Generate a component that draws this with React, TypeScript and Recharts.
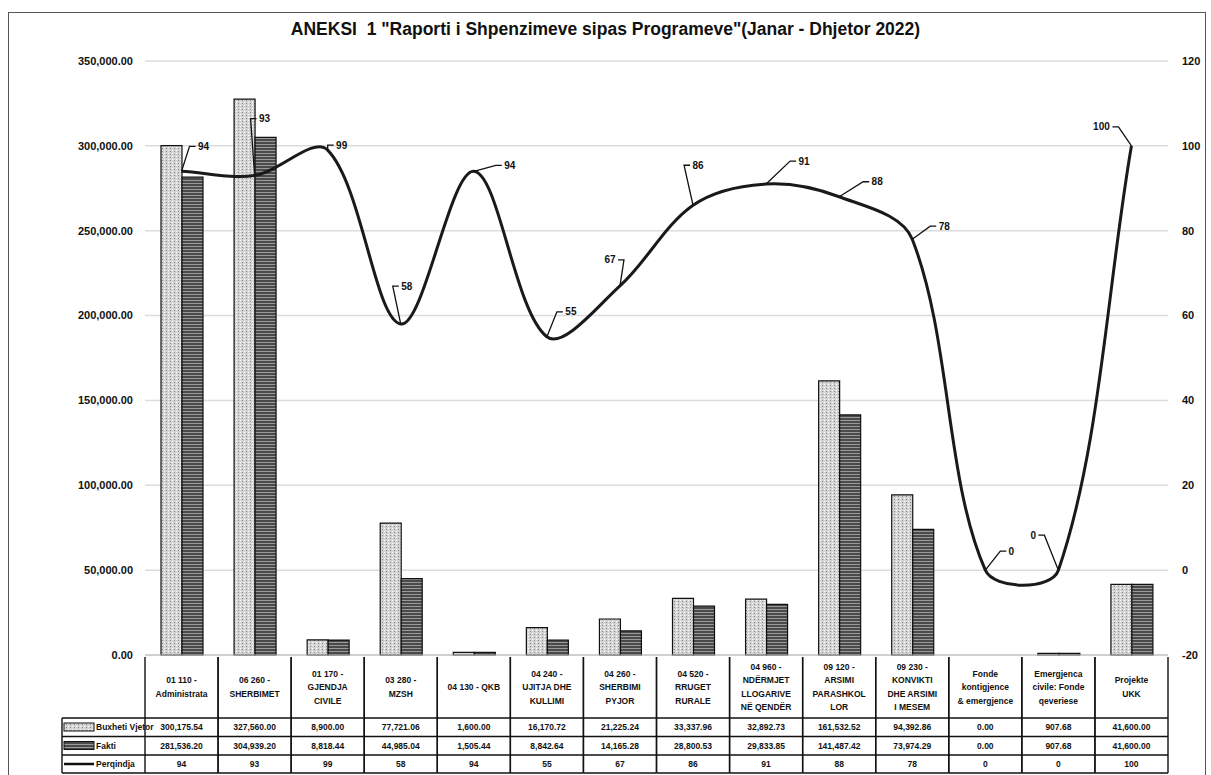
import React from 'react';
import { ComposedChart, Bar, Line, XAxis, YAxis, CartesianGrid } from 'recharts';

const categories = [
  '01 110 -\nAdministrata',
  '06 260 -\nSHERBIMET',
  '01 170 -\nGJENDJA\nCIVILE',
  '03 280 -\nMZSH',
  '04 130 - QKB',
  '04 240 -\nUJITJA DHE\nKULLIMI',
  '04 260 -\nSHERBIMI\nPYJOR',
  '04 520 -\nRRUGET\nRURALE',
  '04 960 -\nNDËRMJET\nLLOGARIVE\nNË QENDËR',
  '09 120 -\nARSIMI\nPARASHKOL\nLOR',
  '09 230 -\nKONVIKTI\nDHE ARSIMI\nI MESEM',
  'Fonde\nkontigjence\n& emergjence',
  'Emergjenca\ncivile: Fonde\nqeveriese',
  'Projekte\nUKK',
];
const buxhetiVjetor = [300175.54, 327560.0, 8900.0, 77721.06, 1600.0, 16170.72, 21225.24, 33337.96, 32892.73, 161532.52, 94392.86, 0.0, 907.68, 41600.0];
const fakti = [281536.2, 304939.2, 8818.44, 44985.04, 1505.44, 8842.64, 14165.28, 28800.53, 29833.85, 141487.42, 73974.29, 0.0, 907.68, 41600.0];
const perqindja = [94, 93, 99, 58, 94, 55, 67, 86, 91, 88, 78, 0, 0, 100];

const leftTicks = [0, 50000, 100000, 150000, 200000, 250000, 300000, 350000];
const rightTicks = [-20, 0, 20, 40, 60, 80, 100, 120];

// where each percentage label sits, relative to its point
const labelOffsets: [number, number][] = [
  [22, -25], [10, -57], [14, -5], [6, -38], [36, -6], [24, -25], [-10, -26],
  [5, -40], [38, -23], [38, -15], [32, -13], [26, -19], [-25, -35], [-30, -19],
];

const data = categories.map((name, i) => ({
  name,
  buxheti: buxhetiVjetor[i],
  fakti: fakti[i],
  perqindja: perqindja[i],
}));

const FONT = "'Liberation Sans', Arial, sans-serif";
const PLOT_LEFT = 145;
const PLOT_RIGHT = 1168;
const COL_W = (PLOT_RIGHT - PLOT_LEFT) / categories.length;

const fmt = (v: number) => v.toLocaleString('en-US', { minimumFractionDigits: 2, maximumFractionDigits: 2 });

// Excel style smoothed line: tangent parallel to neighbours, handles scaled by segment length
const excelSmooth: any = (context: any) => {
  let pts: [number, number][] = [];
  const dist = (a: [number, number], b: [number, number]) => Math.hypot(b[0] - a[0], b[1] - a[1]);
  return {
    areaStart() {},
    areaEnd() {},
    lineStart() { pts = []; },
    lineEnd() {
      const n = pts.length;
      if (!n) return;
      const outC: [number, number][] = [];
      const inC: [number, number][] = [];
      for (let i = 0; i < n; i++) {
        const p = pts[i];
        const prev = pts[i - 1] || p;
        const next = pts[i + 1] || p;
        const d1 = dist(prev, p);
        const d2 = dist(p, next);
        const s = d1 + d2 || 1;
        const tx = next[0] - prev[0];
        const ty = next[1] - prev[1];
        outC[i] = [p[0] + (tx * d2) / s / 3, p[1] + (ty * d2) / s / 3];
        inC[i] = [p[0] - (tx * d1) / s / 3, p[1] - (ty * d1) / s / 3];
      }
      context.moveTo(pts[0][0], pts[0][1]);
      for (let i = 0; i < n - 1; i++) {
        context.bezierCurveTo(outC[i][0], outC[i][1], inC[i + 1][0], inC[i + 1][1], pts[i + 1][0], pts[i + 1][1]);
      }
    },
    point(x: number, y: number) { pts.push([+x, +y]); },
  };
};

const PctLabel = (props: any) => {
  const { x, y, value, index } = props;
  if (x == null || y == null) return null;
  const [dx, dy] = labelOffsets[index] || [10, -20];
  const tx = x + dx;
  const ty = y + dy;
  const half = String(value).length * 3 + 2;
  const edge = dx >= 0 ? tx - half : tx + half;
  const knee = dx >= 0 ? edge - 6 : edge + 6;
  return (
    <g>
      <polyline points={`${x},${y} ${knee},${ty} ${edge},${ty}`} fill="none" stroke="#111" strokeWidth={1.3} />
      <text x={tx} y={ty} textAnchor="middle" dominantBaseline="central" fontSize={10} fontWeight="bold" fontFamily={FONT} fill="#111">
        {value}
      </text>
    </g>
  );
};

const TableTick = (props: any) => {
  const { x, y, payload } = props;
  const i = payload.index;
  const left = x - COL_W / 2;
  const right = x + COL_W / 2;
  const lines = categories[i].split('\n');
  const headMid = y + 32;
  const rowY = [y + 63, y + 81.5, y + 100, y + 118];
  const cellText = { fontSize: 8.5, fontWeight: 'bold' as const, fontFamily: FONT, fill: '#111', textAnchor: 'middle' as const };
  const line = { stroke: '#111', strokeWidth: 1.4 };
  return (
    <g>
      <line x1={left} y1={y + 2} x2={left} y2={rowY[3]} {...line} />
      <line x1={right} y1={y + 2} x2={right} y2={rowY[3]} {...line} />
      {rowY.map((ry, k) => (
        <line key={k} x1={left} y1={ry} x2={right} y2={ry} {...line} />
      ))}
      {lines.map((t, k) => (
        <text key={k} x={x} y={headMid + (k - (lines.length - 1) / 2) * 13.5} dominantBaseline="central" {...cellText}>
          {t}
        </text>
      ))}
      <text x={x} y={(rowY[0] + rowY[1]) / 2} dominantBaseline="central" {...cellText}>{fmt(buxhetiVjetor[i])}</text>
      <text x={x} y={(rowY[1] + rowY[2]) / 2} dominantBaseline="central" {...cellText}>{fmt(fakti[i])}</text>
      <text x={x} y={(rowY[2] + rowY[3]) / 2} dominantBaseline="central" {...cellText}>{perqindja[i]}</text>
      {i === 0 && (
        <g>
          {rowY.map((ry, k) => (
            <line key={k} x1={left - 83} y1={ry} x2={left} y2={ry} {...line} />
          ))}
          <line x1={left - 83} y1={rowY[0]} x2={left - 83} y2={rowY[3]} {...line} />
          <rect x={left - 81} y={rowY[0] + 5} width={30} height={8} fill="url(#patBuxheti)" stroke="#111" strokeWidth={1} />
          <rect x={left - 81} y={rowY[1] + 5} width={30} height={8} fill="url(#patFakti)" stroke="#111" strokeWidth={1} />
          <line x1={left - 81} y1={(rowY[2] + rowY[3]) / 2} x2={left - 51} y2={(rowY[2] + rowY[3]) / 2} stroke="#111" strokeWidth={2.5} />
          {['Buxheti Vjetor', 'Fakti', 'Perqindja'].map((t, k) => (
            <text key={t} x={left - 49} y={(rowY[k] + rowY[k + 1]) / 2} dominantBaseline="central" fontSize={8.5} fontWeight="bold" fontFamily={FONT} fill="#111">
              {t}
            </text>
          ))}
        </g>
      )}
    </g>
  );
};

export default function App() {
  return (
    <div style={{ position: 'absolute', left: 0, top: 0, width: 1211, height: 775, background: '#fff', fontFamily: FONT, overflow: 'hidden' }}>
      <div style={{ position: 'absolute', left: 8, top: 12, width: 1198, height: 770, border: '1.5px solid #555', boxSizing: 'border-box' }} />
      <div style={{ position: 'absolute', left: 0, top: 19, width: 1211, textAlign: 'center', fontSize: 17.5, fontWeight: 'bold', color: '#111' }}>
        ANEKSI&nbsp; 1 "Raporti i Shpenzimeve sipas Programeve"(Janar - Dhjetor 2022)
      </div>
      <div style={{ position: 'absolute', left: 0, top: 0 }}>
        <ComposedChart
          width={1211}
          height={775}
          data={data}
          margin={{ top: 61, left: PLOT_LEFT - 90, right: 1211 - PLOT_RIGHT - 40, bottom: 2 }}
          barGap={0}
          barSize={21}
        >
          <defs>
            <pattern id="patBuxheti" width="4" height="3" patternUnits="userSpaceOnUse">
              <rect width="4" height="3" fill="#d4d4d4" />
              <rect x="0" y="0" width="1" height="1" fill="#fff" />
              <rect x="2" y="1" width="1" height="1" fill="#8a8a8a" />
            </pattern>
            <pattern id="patFakti" width="4" height="3" patternUnits="userSpaceOnUse">
              <rect width="4" height="3" fill="#4a4a4a" />
              <rect x="0" y="0" width="4" height="1" fill="#9a9a9a" />
            </pattern>
          </defs>
          <CartesianGrid yAxisId="left" vertical={false} stroke="#dcdcdc" strokeWidth={1.5} />
          <XAxis
            dataKey="name"
            interval={0}
            height={118}
            tickLine={false}
            tickSize={0}
            tickMargin={0}
            axisLine={{ stroke: '#bbb' }}
            tick={TableTick}
          />
          <YAxis
            yAxisId="left"
            width={90}
            domain={[0, 350000]}
            ticks={leftTicks}
            tickFormatter={fmt}
            axisLine={false}
            tickLine={false}
            tickMargin={6}
            tick={{ fontSize: 11, fontWeight: 'bold', fill: '#111', fontFamily: FONT }}
          />
          <YAxis
            yAxisId="right"
            orientation="right"
            width={40}
            domain={[-20, 120]}
            ticks={rightTicks}
            axisLine={false}
            tickLine={false}
            tickMargin={8}
            tick={{ fontSize: 11, fontWeight: 'bold', fill: '#111', fontFamily: FONT }}
          />
          <Bar yAxisId="left" dataKey="buxheti" name="Buxheti Vjetor" fill="url(#patBuxheti)" stroke="#111" strokeWidth={1.2} isAnimationActive={false} />
          <Bar yAxisId="left" dataKey="fakti" name="Fakti" fill="url(#patFakti)" stroke="#111" strokeWidth={1.2} isAnimationActive={false} />
          <Line
            yAxisId="right"
            dataKey="perqindja"
            name="Perqindja"
            type={excelSmooth}
            stroke="#1a1a1a"
            strokeWidth={3}
            dot={false}
            label={PctLabel}
            isAnimationActive={false}
          />
        </ComposedChart>
      </div>
    </div>
  );
}
